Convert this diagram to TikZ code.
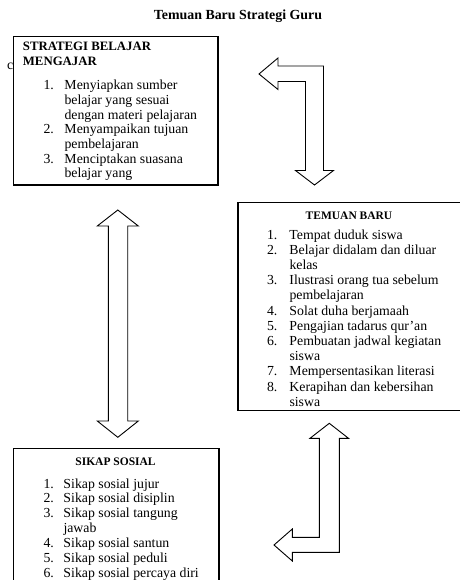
\documentclass[tikz,border=0pt]{standalone}
\usepackage{fontspec}
\setmainfont{Liberation Serif}
\usetikzlibrary{positioning}

\tikzset{
  boxframe/.style={draw,line width=1.2pt,fill=white,anchor=north west,inner sep=0pt},
  headtext/.style={font=\fontsize{11.5}{13}\selectfont\bfseries,anchor=base,inner sep=0pt},
  listtext/.style={font=\fontsize{13.8}{14.7}\selectfont,anchor=base west,inner sep=0pt},
  blockarrow/.style={draw,line width=0.9pt,fill=white,line join=miter}
}

\begin{document}
\begin{tikzpicture}[x=1pt,y=-1pt]
  \useasboundingbox (0,0) rectangle (459,580);

  \node[font=\fontsize{13.9}{15}\selectfont\bfseries,anchor=base] (judul) at (238,20) {Temuan Baru Strategi Guru};

  % stray letter behind the first box
  \node[listtext] (sisa) at (6.8,70) {c};

  % boxes
  \node[boxframe,minimum width=204.6pt,minimum height=148.6pt] (strategi) at (12.7,35.7) {};
  \node[boxframe,minimum width=223.7pt,minimum height=208.5pt] (temuan) at (237.3,201.5) {};
  \node[boxframe,minimum width=205.6pt,minimum height=140pt] (sikap) at (12.7,447.7) {};

  % first box
  \node[font=\fontsize{12.8}{14.3}\selectfont\bfseries,anchor=base west,inner sep=0pt]
        (strategihead) at (22.7,51) {\begin{tabular}[t]{@{}l@{}}STRATEGI BELAJAR\\ MENGAJAR\end{tabular}};
  \node[listtext] (strategilist) at (43.3,89.7) {\begin{tabular}[t]{@{}p{21pt}@{}l@{}}
      1. & Menyiapkan sumber\\
         & belajar yang sesuai\\
         & dengan materi pelajaran\\
      2. & Menyampaikan tujuan\\
         & pembelajaran\\
      3. & Menciptakan suasana\\
         & belajar yang
    \end{tabular}};

  % second box
  \node[headtext] (temuanhead) at (349,219) {TEMUAN BARU};
  \node[listtext,font=\fontsize{13.8}{15.2}\selectfont] (temuanlist) at (266.8,239) {\begin{tabular}[t]{@{}p{22.5pt}@{}l@{}}
      1. & Tempat duduk siswa\\
      2. & Belajar didalam dan diluar\\
         & kelas\\
      3. & Ilustrasi orang tua sebelum\\
         & pembelajaran\\
      4. & Solat duha berjamaah\\
      5. & Pengajian tadarus qur'an\\
      6. & Pembuatan jadwal kegiatan\\
         & siswa\\
      7. & Mempersentasikan literasi\\
      8. & Kerapihan dan kebersihan\\
         & siswa
    \end{tabular}};

  % third box
  \node[headtext] (sikaphead) at (115.5,465.5) {SIKAP SOSIAL};
  \node[listtext,font=\fontsize{13.8}{14.85}\selectfont] (sikaplist) at (43.3,488) {\begin{tabular}[t]{@{}p{20pt}@{}l@{}}
      1. & Sikap sosial jujur\\
      2. & Sikap sosial disiplin\\
      3. & Sikap sosial tangung\\
         & jawab\\
      4. & Sikap sosial santun\\
      5. & Sikap sosial peduli\\
      6. & Sikap sosial percaya diri
    \end{tabular}};

  % block arrows
  \draw[blockarrow] (259,74) -- (278,58) -- (278,66) -- (323.5,66) -- (323.5,170.5)
        -- (333.5,170.5) -- (314.5,185) -- (295.5,170.5) -- (305.5,170.5) -- (305.5,81.5)
        -- (278,81.5) -- (278,89.5) -- cycle;
  \draw[blockarrow] (117.8,210) -- (138.3,226) -- (127.7,226) -- (127.7,421) -- (138.3,421)
        -- (117.8,437.3) -- (97.3,421) -- (108.3,421) -- (108.3,226) -- (97.3,226) -- cycle;
  \draw[blockarrow] (329.3,423.3) -- (348.5,438.3) -- (339.3,438.3) -- (339.3,552.3)
        -- (292.3,552.3) -- (292.3,561) -- (274,545) -- (292.3,529) -- (292.3,537.3)
        -- (319.3,537.3) -- (319.3,438.3) -- (310,438.3) -- cycle;
\end{tikzpicture}
\end{document}
